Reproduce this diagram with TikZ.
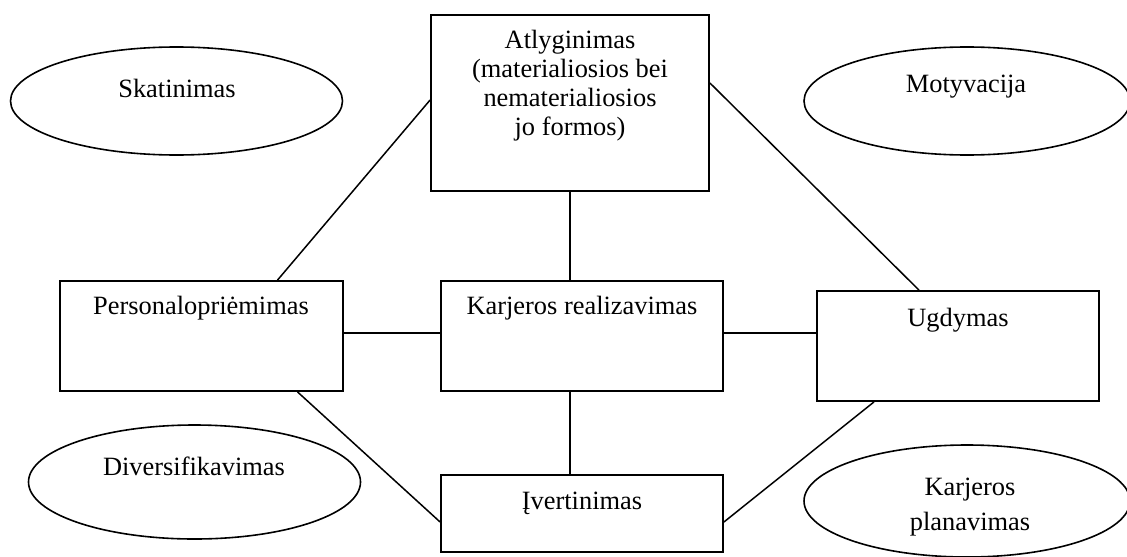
\documentclass[tikz,border=0pt]{standalone}
\usepackage{fontspec}
\setmainfont{Liberation Serif}
\usetikzlibrary{shapes.geometric}
\begin{document}
\begin{tikzpicture}[x=0.5pt,y=-0.5pt,
  every node/.style={font=\fontsize{13.2}{14.5}\selectfont},
  box/.style={draw,line width=0.9pt,rectangle,inner sep=0pt,minimum width=141pt,minimum height=55pt},
  oval/.style={draw,line width=0.8pt,ellipse,inner sep=0pt,minimum width=166pt,minimum height=54pt},
  txt/.style={inner sep=0pt,align=center},
  link/.style={draw,line width=0.75pt}]
\useasboundingbox (0,0) rectangle (1127,556);

% boxes
\node[box,minimum width=139pt,minimum height=88pt] (top) at (570,103) {};
\node[box,minimum width=141.5pt] (pers) at (201.5,336) {};
\node[box] (karj) at (582,336) {};
\node[box] (ugd) at (958,346) {};
\node[box,minimum height=38.5pt] (iv) at (582,513.5) {};

% ellipses
\node[oval] (skat) at (176.5,101) {};
\node[oval,minimum width=163pt] (moty) at (967,101) {};
\node[oval,minimum height=57pt] (div) at (194.5,482) {};
\node[oval,minimum width=163pt,minimum height=56pt] (plan) at (967,501) {};

% labels
\node[txt] (topt) at (570,86) {Atlyginimas\\(materialiosios bei\\nematerialiosios\\jo formos)};
\node[txt] (perst) at (201,308) {Personalopriėmimas};
\node[txt] (karjt) at (582,308) {Karjeros realizavimas};
\node[txt] (ugdt) at (958,320) {Ugdymas};
\node[txt] (ivt) at (582,503) {Įvertinimas};
\node[txt] (skatt) at (177,88) {Skatinimas};
\node[txt] (motyt) at (966,87) {Motyvacija};
\node[txt] (divt) at (194,466) {Diversifikavimas};
\node[txt] (plant) at (970,507) {Karjeros\\[3pt]planavimas};

% connectors
\draw[link] ([yshift=1.5pt]top.west) -- ([xshift=38pt]pers.north);
\draw[link] ([yshift=10pt]top.east) -- ([xshift=-19.5pt]ugd.north);
\draw[link] (top.south) -- (top.south |- karj.north);
\draw[link] ([yshift=1.5pt]pers.east) -- ([yshift=1.5pt]karj.west);
\draw[link] ([yshift=1.5pt]karj.east) -- ([yshift=1.5pt]karj.east -| ugd.west);
\draw[link] (top.south |- karj.south) -- (top.south |- iv.north);
\draw[link] ([xshift=48pt]pers.south) -- ([yshift=-4.25pt]iv.west);
\draw[link] ([xshift=-42pt]ugd.south) -- ([yshift=-4.25pt]iv.east);
\end{tikzpicture}
\end{document}
